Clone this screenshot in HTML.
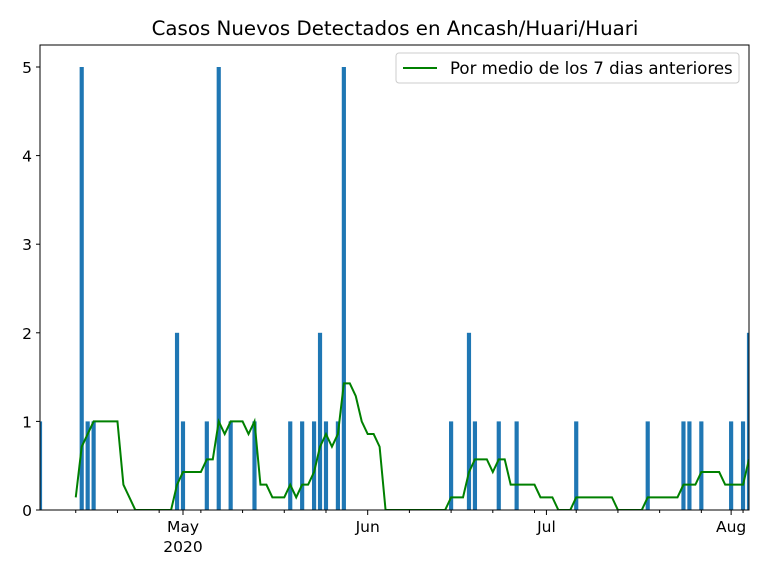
<!DOCTYPE html>
<html><head><meta charset="utf-8"><style>
body{margin:0;background:#fff;}
svg text{font-family:"DejaVu Sans","Liberation Sans",sans-serif;}
</style></head><body>
<svg id="chart" width="768" height="576" viewBox="0 0 768 576" xmlns="http://www.w3.org/2000/svg">
<text x="395" y="35" text-anchor="middle" font-size="19.8" fill="#000">Casos Nuevos Detectados en Ancash/Huari/Huari</text>
<defs><clipPath id="pc"><rect x="40" y="45" width="709" height="465"/></clipPath></defs>
<g id="bars" clip-path="url(#pc)"></g>
<polyline id="avg" fill="none" stroke="#008000" stroke-width="2" clip-path="url(#pc)"/>
<rect x="40" y="45" width="709" height="465" fill="none" stroke="#000" stroke-width="1"/>
<g id="axes"></g>
<g>
<rect x="396" y="53" width="343" height="30" rx="3" fill="#fff" stroke="#ccc"/>
<line x1="403" y1="68" x2="437" y2="68" stroke="#008000" stroke-width="2"/>
<text x="450" y="74" font-size="16.6" fill="#000">Por medio de los 7 dias anteriores</text>
</g>
</svg>
<script>
// day index from 2020-04-07
const caseDays = [0,7,8,9,23,24,28,30,32,36,42,44,46,47,48,50,51,69,72,73,77,80,90,102,108,109,111,116,118,119];
const caseValues = [1,5,1,1,2,1,1,5,1,1,1,1,1,2,1,1,5,1,2,1,1,1,1,1,1,1,1,1,1,2];
const yTicks = [0,1,2,3,4,5];
const majorTickDays = [24,55,85,116];
const majorTickLabels = ["May","Jun","Jul","Aug"];
const minorTickDays = [6,13,20,27,34,41,48,62,69,76,83,90,97,104,111,118];
const NDAYS = 119;

const X0=40,X1=749,Y0=510,Y5=67;
const xs = d => X0 + d*(X1-X0)/NDAYS;
const ys = v => Y0 - v*(Y0-Y5)/5;
const NS="http://www.w3.org/2000/svg";
function mk(tag,attrs,parent){const e=document.createElementNS(NS,tag);for(const k in attrs)e.setAttribute(k,attrs[k]);parent.appendChild(e);return e;}

const barsG=document.getElementById('bars');
const bw=(X1-X0)/NDAYS*0.7;
caseDays.forEach((d,i)=>{
  const r=mk('rect',{x:xs(d)-bw/2,y:ys(caseValues[i]),width:bw,height:Y0-ys(caseValues[i]),fill:'#1f77b4'},barsG);
  
  
});

const daily=new Array(NDAYS+1).fill(0);
caseDays.forEach((d,i)=>{daily[d]=caseValues[i];});
const pts=[];
for(let d=6;d<=NDAYS;d++){let s=0;for(let k=d-6;k<=d;k++)s+=daily[k];pts.push(xs(d)+','+ys(s/7));}
document.getElementById('avg').setAttribute('points',pts.join(' '));

const ax=document.getElementById('axes');
yTicks.forEach(v=>{
  const l=mk('line',{x1:X0-4,x2:X0,y1:ys(v),y2:ys(v),stroke:'#000'},ax);
  
  
  const t=mk('text',{x:X0-8,y:ys(v)+6,'text-anchor':'end','font-size':'15.5',fill:'#000'},ax);
  t.textContent=v;
  
  
});
majorTickDays.forEach((d,i)=>{
  const l=mk('line',{x1:xs(d),x2:xs(d),y1:Y0,y2:Y0+5,stroke:'#000'},ax);
  
  
  const t=mk('text',{x:xs(d),y:Y0+22,'text-anchor':'middle','font-size':'15.5',fill:'#000'},ax);
  t.textContent=majorTickLabels[i];
  
  
  if(i===0){
    const t2=mk('text',{x:xs(d),y:Y0+42,'text-anchor':'middle','font-size':'15.5',fill:'#000'},ax);
    t2.textContent='2020';
    
    
  }
});
minorTickDays.forEach(d=>{
  const l=mk('line',{x1:xs(d),x2:xs(d),y1:Y0,y2:Y0+3,stroke:'#000'},ax);
  
  
});
</script>
</body></html>
